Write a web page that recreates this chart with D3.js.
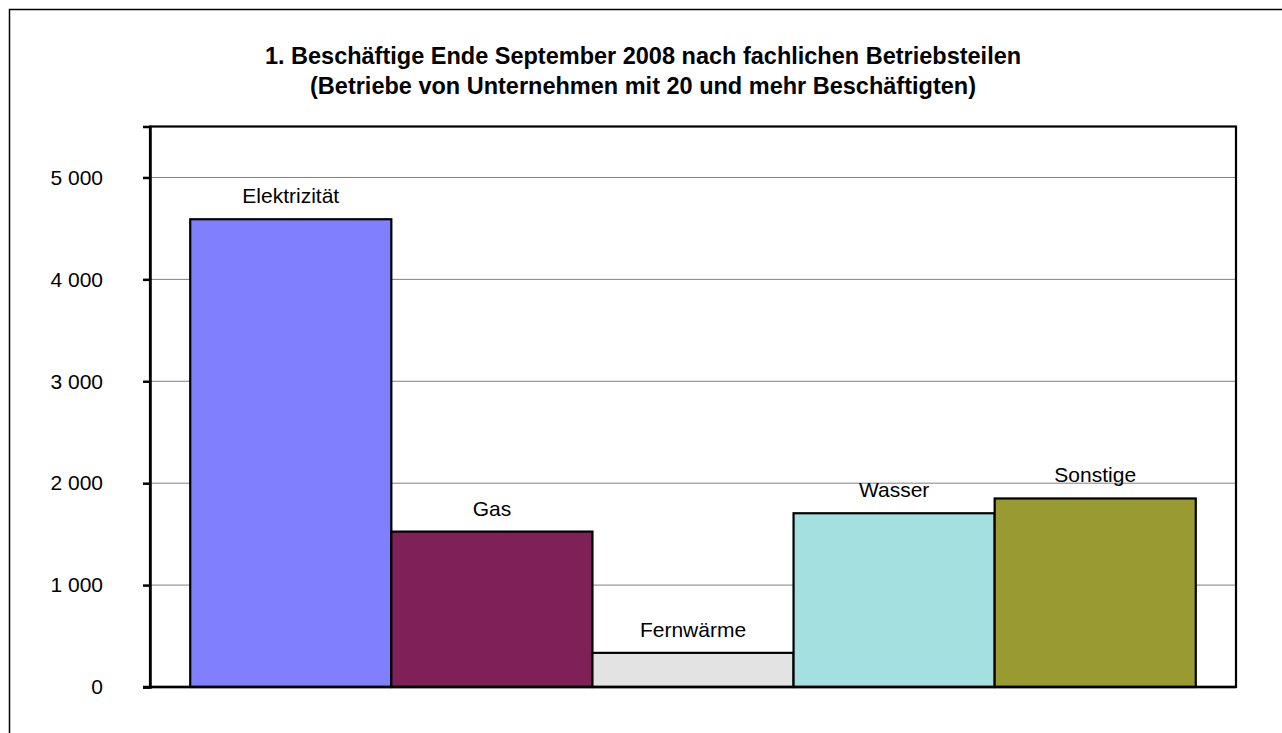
<!DOCTYPE html>
<html>
<head>
<meta charset="utf-8">
<script src="https://cdn.jsdelivr.net/npm/d3@7"></script>
<style>
  html, body { margin: 0; padding: 0; background: #fff; }
  svg { display: block; font-family: "Liberation Sans", Arial, sans-serif; }
</style>
</head>
<body>
<svg id="chart" width="1282" height="733"></svg>
<script>
const titleLines = [
  "1. Beschäftige Ende September 2008 nach fachlichen Betriebsteilen",
  "(Betriebe von Unternehmen mit 20 und mehr Beschäftigten)"
];
const categories = ["Elektrizität", "Gas", "Fernwärme", "Wasser", "Sonstige"];
const values = [4590, 1525, 335, 1705, 1850];
const colors = ["#8080FF", "#7F2059", "#E3E3E3", "#A5E0E0", "#9A9A33"];
const yTicks = [0, 1000, 2000, 3000, 4000, 5000];
const yMax = 5500;

const svg = d3.select("#chart");
const W = 1282, H = 733;
const plot = { left: 150, top: 126.5, right: 1236, bottom: 687 };

// outer chart border (extends beyond the canvas on right/bottom)
svg.append("rect")
  .attr("x", 9.5).attr("y", 9.5)
  .attr("width", W + 20).attr("height", H + 20)
  .attr("fill", "#fff").attr("stroke", "#000").attr("stroke-width", 1.5);

// title
const title = svg.append("text")
  .attr("text-anchor", "middle")
  .attr("font-size", 23.5).attr("font-weight", "bold").attr("fill", "#000");
titleLines.forEach((t, i) => {
  title.append("tspan").attr("x", 643).attr("y", 64.3 + i * 30).text(t);
});

const y = d3.scaleLinear().domain([0, yMax]).range([plot.bottom, plot.top]);
const x = d3.scaleBand().domain(categories)
  .range([plot.left, plot.right]).paddingInner(0).paddingOuter(0.2);

// plot area background
svg.append("rect")
  .attr("x", plot.left).attr("y", plot.top)
  .attr("width", plot.right - plot.left).attr("height", plot.bottom - plot.top)
  .attr("fill", "#fff");

// gridlines
svg.append("g")
  .selectAll("line")
  .data(yTicks.filter(d => d > 0))
  .join("line")
  .attr("x1", plot.left).attr("x2", plot.right)
  .attr("y1", d => y(d)).attr("y2", d => y(d))
  .attr("stroke", "#808080").attr("stroke-width", 1);

// bars
svg.append("g")
  .selectAll("rect")
  .data(categories)
  .join("rect")
  .attr("x", d => x(d))
  .attr("y", (d, i) => y(values[i]))
  .attr("width", x.bandwidth())
  .attr("height", (d, i) => y(0) - y(values[i]))
  .attr("fill", (d, i) => colors[i])
  .attr("stroke", "#000").attr("stroke-width", 2.2);

// bar labels
svg.append("g")
  .selectAll("text")
  .data(categories)
  .join("text")
  .attr("x", d => x(d) + x.bandwidth() / 2)
  .attr("y", (d, i) => y(values[i]) - 16)
  .attr("text-anchor", "middle")
  .attr("font-size", 21).attr("fill", "#000")
  .text(d => d);

// plot area border
svg.append("rect")
  .attr("x", plot.left).attr("y", plot.top)
  .attr("width", plot.right - plot.left).attr("height", plot.bottom - plot.top)
  .attr("fill", "none").attr("stroke", "#000").attr("stroke-width", 2.2);

// y axis
const fmt = d => d3.format(",")(d).replace(/,/g, " ");
const yAxis = d3.axisLeft(y).tickValues(yTicks).tickSize(7).tickPadding(40).tickFormat(fmt);
const gy = svg.append("g").attr("transform", `translate(${plot.left},0)`).call(yAxis);
gy.select(".domain").attr("stroke", "#000").attr("stroke-width", 2.5);
gy.selectAll(".tick line").attr("stroke", "#000").attr("stroke-width", 2.5);
gy.selectAll(".tick text")
  .attr("font-size", 21).attr("fill", "#000")
  .attr("font-family", "\"Liberation Sans\", Arial, sans-serif");

// x axis baseline
svg.append("line")
  .attr("x1", plot.left - 7).attr("x2", plot.right)
  .attr("y1", y(0)).attr("y2", y(0))
  .attr("stroke", "#000").attr("stroke-width", 2.5);
</script>
</body>
</html>
